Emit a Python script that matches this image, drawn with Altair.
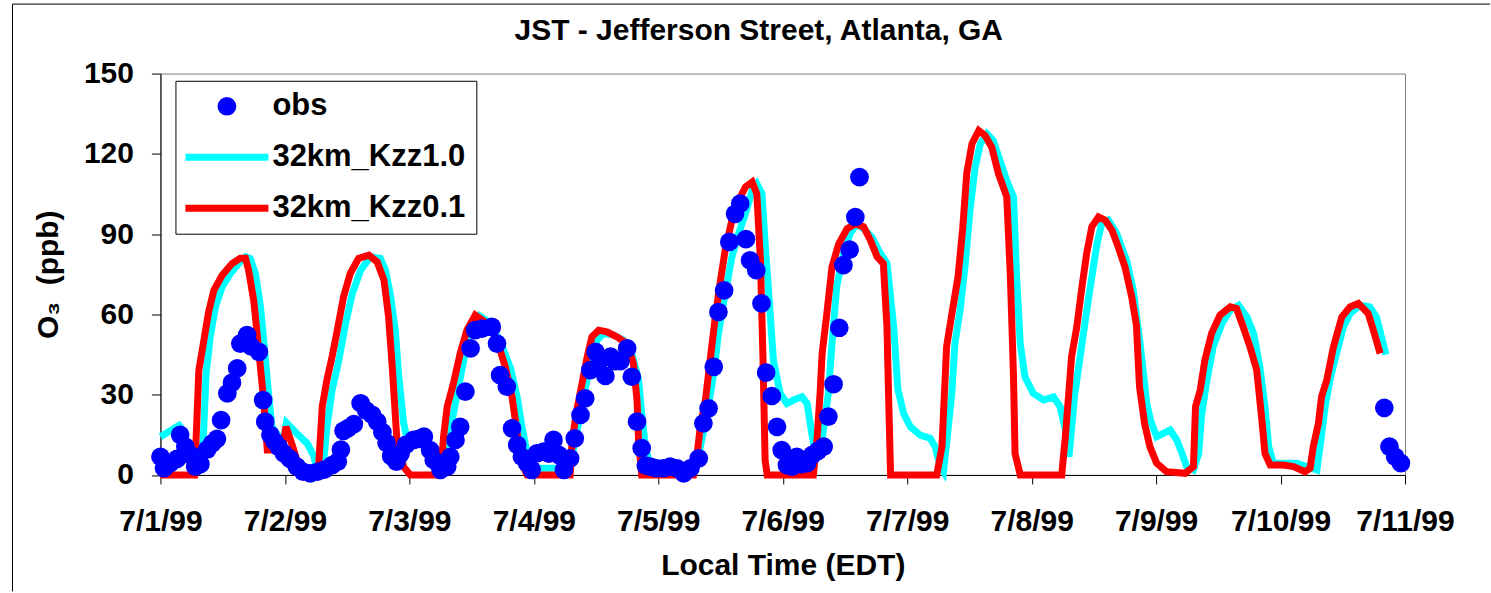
import altair as alt
import pandas as pd

FONT = "Liberation Sans"

# ---- data (hours since 7/1/99 00:00 EDT, O3 ppb) ----
red_points = [
    (0, 0), (6.6, 0), (7.4, 39), (8.35, 50), (9.3, 61), (10.3, 69), (11.9, 74.6), (13.8, 79), (15.4, 81), (16.4, 81),
    (17.0, 76.5), (18.0, 65), (18.95, 46.7), (19.9, 28), (20.6, 9.3), (23.5, 9.3), (24.2, 18), (25.1, 13), (26.4, 5),
    (27.9, 0), (30.4, 0), (31.2, 25.5), (32.1, 35.5), (33.1, 44.2), (34.1, 54.1), (35.3, 66.5), (36.6, 75.3),
    (38.2, 80.9), (40.2, 82.1), (41.8, 79.6), (43.1, 72.8), (44.0, 59), (44.7, 40.4), (45.6, 13), (46.9, 3), (48.2, 0),
    (54.0, 0), (54.6, 14.3), (55.3, 25.5), (56.5, 34.2), (57.8, 45.4), (59.1, 54.1), (60.7, 59.7), (63.0, 56.6),
    (64.9, 50.4), (66.5, 40.4), (67.8, 29.2), (68.8, 15.5), (69.4, 5.6), (70.7, 0), (79.0, 0), (79.4, 13),
    (80.3, 24.3), (81.3, 34.2), (82.3, 44.2), (83.2, 51.6), (84.5, 54.1), (86.1, 53.5), (88.0, 51.6), (90.0, 49.1),
    (91.2, 41.7), (91.9, 28), (92.2, 13), (92.8, 0), (102.8, 0), (103.5, 8), (104.1, 18), (105.1, 28), (106.0, 42.9),
    (107.0, 59.1), (108.0, 72.8), (108.9, 84), (110.2, 95.2), (111.5, 102.6), (112.8, 107.6), (114.1, 109.5),
    (115.0, 105.1), (115.7, 80.2), (116.2, 42.9), (116.6, 5.6), (117.0, 0), (125.9, 0), (126.6, 13), (127.2, 30.5),
    (127.6, 45.4), (128.5, 60.3), (129.5, 77.7), (130.8, 86.4), (132.4, 92), (134.0, 93.9), (135.6, 92.7),
    (136.9, 87.7), (138.2, 81.5), (139.4, 79), (140.1, 55.3), (140.4, 30.5), (140.8, 0), (149.7, 0), (150.7, 10.5),
    (151.6, 48), (152.6, 60), (153.8, 74), (154.7, 92), (155.5, 113), (156.5, 123.8), (157.8, 128.7), (159.0, 126.9),
    (160.3, 122.5), (161.6, 112.6), (163.2, 103.9), (163.9, 74), (164.5, 36.7), (164.8, 8), (165.8, 0), (173.8, 0),
    (174.5, 14.3), (175.1, 29.2), (175.7, 44.2), (176.7, 55.3), (177.7, 70.3), (178.6, 82.7), (179.6, 92.7),
    (180.9, 96.4), (182.2, 95.2), (183.5, 91.4), (184.7, 85.2), (186.0, 77.7), (187.3, 66.5), (188.2, 56),
    (188.8, 33), (189.8, 19), (190.8, 10.6), (192.1, 4.4), (194.0, 1.2), (197.6, 0.6), (199.2, 3.1), (199.6, 25.5),
    (200.5, 31.7), (201.4, 42.9), (202.7, 52.9), (204.3, 59.7), (206.3, 62.8), (207.5, 62.2), (208.8, 55.3),
    (210.1, 47.9), (211.4, 39.2), (212.4, 20.5), (213.0, 8), (214.0, 3.7), (216.5, 3.7), (218.5, 3.1), (220.7, 1.2),
    (221.7, 2.5), (222.3, 10.6), (223.3, 19.3), (223.9, 29.2), (224.9, 35.4), (226.2, 47.9), (227.8, 59),
    (229.4, 62.8), (231.0, 64.1), (232.9, 60.3), (233.9, 54.1), (235.2, 45.4),
]

cyan_points = [
    (0, 14.3), (3.6, 18.5), (4.2, 17), (5.5, 8), (6.8, 2), (7.8, 2), (8.3, 15), (8.8, 38), (9.6, 51.6), (10.6, 62.8),
    (11.9, 70.3), (13.5, 75.3), (15.1, 79), (16.4, 81.5), (17.3, 80.9), (18.3, 75.3), (19.3, 62.8), (20.2, 44.2),
    (20.9, 29.2), (21.5, 18), (23.6, 12), (24.3, 19.5), (26.3, 15.5), (28.3, 11.8), (29.6, 6.9), (30.2, 1.9),
    (31.3, 1.5), (32.1, 18), (33.1, 31.7), (34.4, 42.9), (35.7, 56.6), (37.0, 67.8), (38.6, 76.5), (40.5, 81.5),
    (42.4, 80.9), (43.4, 76.5), (44.3, 67.8), (45.3, 54), (45.9, 38), (46.9, 19.3), (47.6, 13), (49.0, 14),
    (51.0, 13.5), (52.5, 9), (54.0, 4), (55.0, 8), (56.0, 18), (57.2, 30), (58.5, 43), (59.8, 55), (61.5, 59.5),
    (63.5, 57), (65.5, 50), (67.5, 40), (68.8, 29), (69.7, 18), (70.7, 8), (72.0, 2.5), (76.0, 2.5), (79.0, 2),
    (79.7, 10.5), (81.0, 23), (82.0, 33), (82.9, 41.7), (84.2, 50.4), (85.5, 52.9), (87.4, 52.3), (89.3, 50.4),
    (90.9, 45.4), (92.2, 35.4), (92.8, 23), (93.5, 10.5), (94.5, 3), (103.0, 2.5), (104.1, 10.5), (105.4, 23),
    (106.7, 37.9), (107.6, 52.9), (108.9, 67.8), (110.2, 81.5), (111.5, 90.2), (112.8, 97.6), (114.1, 106.3),
    (115.0, 108.8), (116.0, 105.1), (116.6, 86.4), (117.3, 67.8), (118.2, 42.9), (119.5, 30.5), (120.8, 26.7),
    (122.1, 28), (123.7, 29.2), (124.7, 26.7), (125.6, 15.5), (126.3, 8), (127.3, 8), (127.9, 18), (128.8, 30.5),
    (129.5, 49.1), (130.4, 70.3), (131.7, 82.7), (133.0, 90.2), (134.3, 93.9), (135.9, 91.4), (137.2, 88.9),
    (138.5, 83.9), (140.1, 79), (141.4, 55.3), (142.2, 32), (143.3, 23), (144.6, 18), (146.5, 14.9), (148.4, 13.7),
    (149.4, 10.5), (150.4, 3), (151.0, 1.2), (151.6, 11.8), (152.6, 30.5), (153.2, 49.1), (154.2, 61.6), (155.2, 79),
    (156.1, 98.9), (157.1, 115), (158.1, 123.8), (159.4, 127.5), (160.6, 125), (161.9, 117.5), (163.2, 110),
    (164.5, 103.9), (165.1, 74), (165.8, 49.1), (166.7, 36.7), (168.3, 30.5), (170.3, 28), (172.2, 29.2),
    (173.5, 25.5), (174.5, 16.8), (175.2, 6.8), (176.3, 30), (177.7, 49.1), (179.0, 66.5), (180.6, 86.4),
    (181.5, 93.9), (182.8, 95.2), (184.4, 90.2), (186.3, 80.2), (187.6, 69), (188.9, 49.1), (190.2, 26.7),
    (191.0, 20), (192.1, 14.3), (193.4, 15.5), (194.7, 16.8), (196.0, 13), (197.0, 8), (197.9, 3.1), (199.2, 1.9),
    (200.2, 8), (200.8, 23), (201.8, 35.4), (203.0, 47.9), (204.7, 56.6), (206.3, 61.6), (207.9, 63.4), (209.5, 59),
    (210.8, 52.9), (212.0, 40.4), (213.0, 25.5), (213.7, 10.6), (214.6, 4.4), (219.1, 4.4), (221.0, 3.1),
    (223.0, 1.9), (223.6, 10.6), (224.6, 25.5), (225.5, 35.4), (226.8, 45.4), (228.1, 55.3), (229.4, 60.3),
    (231.3, 63.4), (233.2, 62.8), (234.5, 59), (236.3, 45),
]

obs_points = [
    (0, 6.8), (0.7, 2.5), (1.9, 4.4), (3.2, 6), (3.8, 15), (4.8, 10.6), (5.8, 7.5), (6.7, 3.1), (7.7, 4), (9, 9.5),
    (10, 11.8), (10.9, 13.5), (11.7, 20.5), (12.9, 30.5), (13.8, 34.5), (14.8, 39.8), (15.4, 49.1), (16.7, 52.3),
    (17.5, 48), (19, 46), (19.8, 28), (20.2, 19.9), (21.2, 15), (22, 12.5), (22.8, 10.5), (23.8, 8.1), (25, 6),
    (26.3, 3.1), (27.5, 1.2), (28.9, 0.6), (30.3, 1.2), (31.6, 2), (33.1, 3.7), (34.2, 5), (34.8, 9.5), (35.3, 16.5),
    (36.2, 17.5), (37.3, 19), (38.6, 26.8), (39.7, 24), (40.8, 22.5), (41.8, 19.9), (42.8, 16), (43.6, 12), (44.5, 7),
    (45.5, 5), (46.3, 8), (47.3, 11.2), (48.8, 13.1), (49.8, 13.5), (50.8, 14.3), (52, 9.3), (52.7, 5.6), (54, 1.9),
    (55.3, 3.1), (55.9, 6.8), (56.9, 13.1), (57.8, 18), (58.8, 31.1), (59.8, 47.3), (60.7, 54.1), (62, 54.7),
    (63.9, 55.3), (64.9, 49.1), (65.5, 37.3), (66.8, 33), (67.8, 17.4), (68.8, 11.2), (69.7, 6.8), (70.7, 4.4),
    (71.6, 1.9), (72.6, 8.1), (73.9, 8.7), (74.9, 8), (75.8, 13.1), (76.8, 7.5), (77.8, 1.9), (79, 6.2), (79.9, 13.7),
    (81, 22.4), (81.9, 28.6), (82.9, 39.2), (83.9, 46), (84.8, 43), (85.8, 37), (86.8, 44.2), (87.7, 42.5),
    (88.7, 42.5), (90, 47.3), (90.9, 36.7), (91.9, 19.9), (92.8, 10), (93.6, 3.5), (94.6, 3), (95.7, 2.5), (97, 2.5),
    (98.3, 3.1), (99.6, 2.5), (100.9, 0.6), (102.2, 2.5), (103.8, 6.2), (104.7, 19.3), (105.7, 24.9), (106.7, 40.4),
    (107.6, 60.9), (108.7, 69), (109.7, 87.1), (110.8, 97.6), (111.8, 101.4), (112.9, 88.1), (113.7, 80.2),
    (114.9, 76.5), (115.9, 64.1), (116.8, 38.2), (117.9, 29.5), (118.9, 18), (119.8, 9.3), (120.8, 3.7),
    (121.8, 3.1), (122.7, 6.8), (123.6, 4), (124.7, 4.4), (125.7, 7.5), (126.8, 9), (127.9, 10.6), (128.8, 21.8),
    (129.8, 33.9), (130.9, 55), (131.7, 78.4), (132.9, 84.2), (134, 96.4), (134.8, 111.3), (236, 25.1), (237, 10.6),
    (238.1, 6.8), (239.2, 4.4),
]

SERIES = ["obs", "32km_Kzz1.0", "32km_Kzz0.1"]
COLORS = ["#0000FF", "#00FFFF", "#FF0000"]
LINE_SYMBOL = "M-4.44,-0.37H4.44V0.37H-4.44Z"
SHAPES = ["circle", LINE_SYMBOL, LINE_SYMBOL]
X_TICKS = list(range(0, 241, 24))
Y_TICKS = [0, 30, 60, 90, 120, 150]


def frame(points, name):
    return pd.DataFrame({"t": [p[0] for p in points], "v": [p[1] for p in points], "series": name})


obs_df = frame(obs_points, SERIES[0])
cyan_df = frame(cyan_points, SERIES[1])
red_df = frame(red_points, SERIES[2])

x_enc = alt.X(
    "t:Q",
    scale=alt.Scale(domain=[0, 240], nice=False, zero=False),
    axis=alt.Axis(
        values=X_TICKS,
        labelExpr="'7/' + (datum.value / 24 + 1) + '/99'",
        title="Local Time (EDT)",
        labelFlush=False,
        labelOverlap=False,
    ),
)
y_enc = alt.Y(
    "v:Q",
    scale=alt.Scale(domain=[0, 150], nice=False),
    axis=alt.Axis(values=Y_TICKS, title="O\u2083\u00a0 (ppb)", labelFlush=False, labelOverlap=False),
)

cyan = alt.Chart(cyan_df).mark_line(color=COLORS[1], strokeWidth=7).encode(x=x_enc, y=y_enc)
red = alt.Chart(red_df).mark_line(color=COLORS[2], strokeWidth=7).encode(x=x_enc, y=y_enc)

legend = alt.Legend(
    title=None,
    orient="none",
    legendX=15,
    legendY=7.2,
    direction="vertical",
    strokeColor="black",
    fillColor="white",
    padding=10,
    cornerRadius=0,
    labelFont=FONT,
    labelFontSize=31,
    labelFontWeight="bold",
    labelColor="black",
    labelLimit=500,
    symbolSize=350,
    symbolStrokeWidth=0,
    symbolOffset=26,
    labelOffset=30,
    rowPadding=19,
)

obs = alt.Chart(obs_df).mark_point(filled=True, size=350, opacity=1, strokeWidth=0).encode(
    x=x_enc,
    y=y_enc,
    color=alt.Color("series:N", scale=alt.Scale(domain=SERIES, range=COLORS), legend=legend),
    shape=alt.Shape("series:N", scale=alt.Scale(domain=SERIES, range=SHAPES), legend=legend),
)

# outer frame of the figure (decoration)
one = pd.DataFrame({"k": [0]})
frame_left = alt.Chart(one).mark_rule(color="black", strokeWidth=1).encode(
    x=alt.value(-148), y=alt.value(-69.5), y2=alt.value(518)
)
frame_top = alt.Chart(one).mark_rule(color="black", strokeWidth=1).encode(
    x=alt.value(-148), x2=alt.value(1330), y=alt.value(-69.5)
)

chart = (
    alt.layer(frame_left, frame_top, cyan, red, obs)
    .properties(
        width=1245,
        height=401.5,
        padding={"left": 11.5, "top": 3.5, "right": 0, "bottom": 0},
        title=alt.TitleParams(
            "JST - Jefferson Street, Atlanta, GA",
            font=FONT,
            fontSize=30,
            fontWeight="bold",
            color="black",
            anchor="middle",
            dx=-24,
            offset=-42,
        ),
        background="white",
    )
    .configure_view(stroke="#808080", strokeWidth=1)
    .configure_axis(
        grid=False,
        domainColor="black",
        domainWidth=1,
        tickColor="black",
        tickSize=9,
        tickWidth=1,
        labelFont=FONT,
        labelFontSize=30,
        labelFontWeight="bold",
        labelColor="black",
        titleFont=FONT,
        titleFontSize=30,
        titleFontWeight="bold",
        titleColor="black",
    )
    .configure_axisX(labelPadding=23, titlePadding=14)
    .configure_axisY(labelPadding=18, titlePadding=20)
)

chart.save("out.html", embed_options={"renderer": "svg", "actions": False})
